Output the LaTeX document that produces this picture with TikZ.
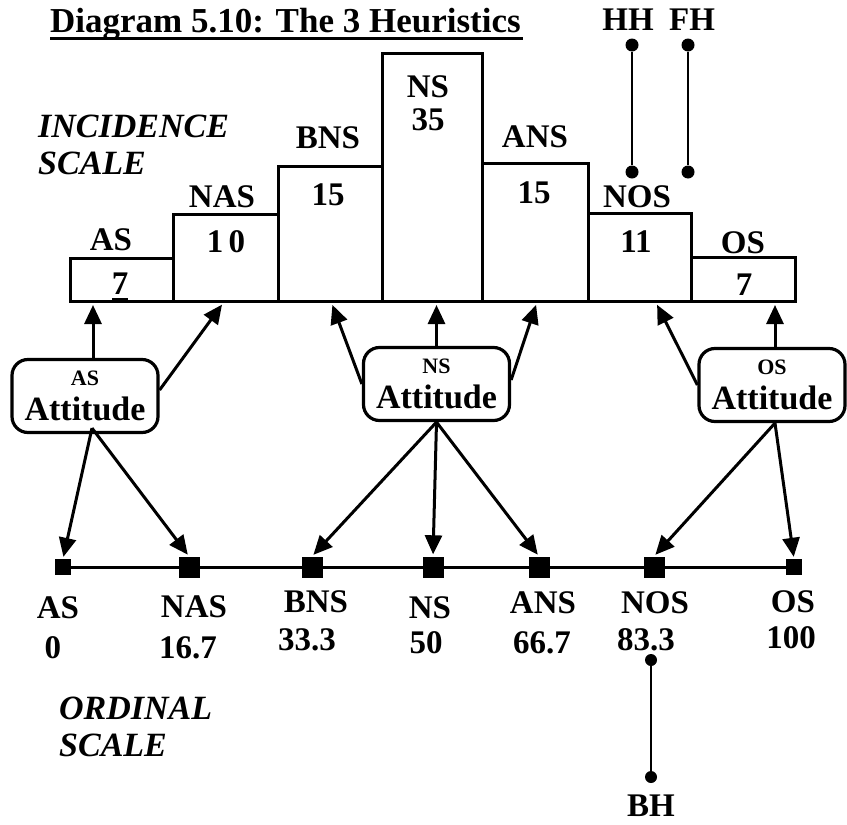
\documentclass[tikz,border=0pt]{standalone}
\usepackage{fontspec}
\setmainfont{Liberation Serif}
\usetikzlibrary{arrows.meta,calc}
\begin{document}
\begin{tikzpicture}[x=1pt,y=-1pt,
  lbl/.style={font=\fontsize{33}{35}\selectfont\bfseries, inner sep=0pt},
  scalelbl/.style={font=\fontsize{34}{37}\selectfont\bfseries\itshape, inner sep=0pt, align=left, anchor=west},
  bar/.style={draw, line width=3.4pt, inner sep=0pt, anchor=south west, fill=white},
  att/.style={draw, line width=3.2pt, rounded corners=16pt, minimum width=146pt, minimum height=73pt,
    inner sep=0pt, align=center, font=\fontsize{34}{35}\selectfont\bfseries},
  tick/.style={fill=black, inner sep=0pt, minimum size=#1},
  dot/.style={circle, fill=black, inner sep=0pt, minimum size=13pt},
  conn/.style={line width=3pt, shorten >=2pt, -{Triangle[length=19pt,width=17pt]}},
  link/.style={line width=2.6pt},
]
\useasboundingbox (0,0) rectangle (847,825);

% title
\node[lbl, font=\fontsize{35}{37}\selectfont\bfseries, anchor=base west] (title) at (50,32) {Diagram 5.10: The 3 Heuristics};
\draw[line width=3pt] ($(title.base west)+(0,6)$) -- ($(title.base east)+(2,6)$);

% heuristic markers
\node[lbl] (hh) at (628,20) {HH};
\node[lbl] (fh) at (692,20) {FH};
\node[dot] (hhTop) at (632,45) {};
\node[dot] (hhBot) at (632,172) {};
\node[dot] (fhTop) at (688,45) {};
\node[dot] (fhBot) at (688,172) {};
\draw[link] (hhTop) -- (hhBot);
\draw[link] (fhTop) -- (fhBot);

% incidence scale
\node[scalelbl] (inc) at (38,145) {INCIDENCE\\SCALE};
\node[bar, minimum width=103pt, minimum height=43pt]  (barAS)  at (69,303) {};
\node[bar, minimum width=105pt, minimum height=87pt]  (barNAS) at (172,303) {};
\node[bar, minimum width=104pt, minimum height=135pt] (barBNS) at (277,303) {};
\node[bar, minimum width=100pt, minimum height=248pt] (barNS)  at (381,303) {};
\node[bar, minimum width=106pt, minimum height=138pt] (barANS) at (481,303) {};
\node[bar, minimum width=103pt, minimum height=88pt]  (barNOS) at (587,303) {};
\node[bar, minimum width=104pt, minimum height=44pt]  (barOS)  at (690,303) {};

\node[lbl] (tAS)  at (111,240) {AS};
\node[lbl] (tNAS) at (222,197) {NAS};
\node[lbl] (tBNS) at (328,138) {BNS};
\node[lbl] (tNS)  at (428,87)  {NS};
\node[lbl] (tANS) at (535,137) {ANS};
\node[lbl] (tNOS) at (637,197) {NOS};
\node[lbl] (tOS)  at (743,243) {OS};
\node[lbl] (vAS)  at (120,284) {7};
\draw[line width=3pt] ($(vAS.south)+(-8,4)$) -- ($(vAS.south)+(8,4)$);
\node[lbl] (vNAS) at (226,242) {1\,0};
\node[lbl] (vBNS) at (328,195) {15};
\node[lbl] (vNS)  at (428,120) {35};
\node[lbl] (vANS) at (534,193) {15};
\node[lbl] (vNOS) at (636,242) {11};
\node[lbl] (vOS)  at (744,285) {7};

% attitudes
\node[att] (attAS) at (85,396)    {{\fontsize{22}{22}\selectfont\bfseries AS}\\Attitude};
\node[att] (attNS) at (436.5,384) {{\fontsize{22}{22}\selectfont\bfseries NS}\\Attitude};
\node[att] (attOS) at (772,385)   {{\fontsize{22}{22}\selectfont\bfseries OS}\\Attitude};

% ordinal scale
\node[tick=16pt] (sqAS)  at (63,567)  {};
\node[tick=21pt] (sqNAS) at (189,567) {};
\node[tick=21pt] (sqBNS) at (312,567) {};
\node[tick=21pt] (sqNS)  at (433,567) {};
\node[tick=21pt] (sqANS) at (539,567) {};
\node[tick=21pt] (sqNOS) at (654,567) {};
\node[tick=16pt] (sqOS)  at (794,567) {};
\draw[line width=3pt] (sqAS) -- (sqOS);

\node[lbl] (oAS)  at (58,608)  {AS};
\node[lbl] (oNAS) at (194,607) {NAS};
\node[lbl] (oBNS) at (316,602) {BNS};
\node[lbl] (oNS)  at (430,608) {NS};
\node[lbl] (oANS) at (543,603) {ANS};
\node[lbl] (oNOS) at (655,603) {NOS};
\node[lbl] (oOS)  at (793,602) {OS};
\node[lbl] (nAS)  at (53,648)  {0};
\node[lbl] (nNAS) at (188,648) {16.7};
\node[lbl] (nBNS) at (307,640) {33.3};
\node[lbl] (nNS)  at (426,643) {50};
\node[lbl] (nANS) at (542,643) {66.7};
\node[lbl] (nNOS) at (646,640) {83.3};
\node[lbl] (nOS)  at (791,638) {100};

\node[scalelbl] (ord) at (59,727) {ORDINAL\\SCALE};

% BH marker
\node[dot, minimum size=12pt] (bhTop) at (651,660) {};
\node[dot, minimum size=12pt] (bhBot) at (651,777) {};
\draw[link] (bhTop) -- (bhBot);
\node[lbl] (bh) at (651,806) {BH};

% attitudes up to incidence bars
\draw[conn] ($(attAS.north)+(8,0)$) -- ($(barAS.south west)+(24,0)$);
\draw[conn] ($(attAS.east)+(0,-6)$) -- ($(barNAS.south)+(-3,0)$);
\draw[conn] (attNS.west) -- ($(barBNS.south)+(1,0)$);
\draw[conn] (attNS.north) -- (attNS.north |- barNS.south);
\draw[conn] ($(attNS.east)+(0,-4)$) -- ($(barANS.south)+(1,0)$);
\draw[conn] (attOS.west) -- ($(barNOS.south)+(16,0)$);
\draw[conn] ($(attOS.north)+(3,0)$) -- ($(attOS.north |- barOS.south)+(3,0)$);

% attitudes down to ordinal points
\draw[conn] ($(attAS.south)+(7,-6)$) -- (sqAS.north);
\draw[conn] ($(attAS.south)+(7,-6)$) -- (sqNAS.north);
\draw[conn] (attNS.south) -- (sqBNS.north);
\draw[conn] (attNS.south) -- (sqNS.north);
\draw[conn] (attNS.south) -- (sqANS.north);
\draw[conn] ($(attOS.south)+(3,0)$) -- (sqNOS.north);
\draw[conn] ($(attOS.south)+(3,0)$) -- (sqOS.north);
\end{tikzpicture}
\end{document}
